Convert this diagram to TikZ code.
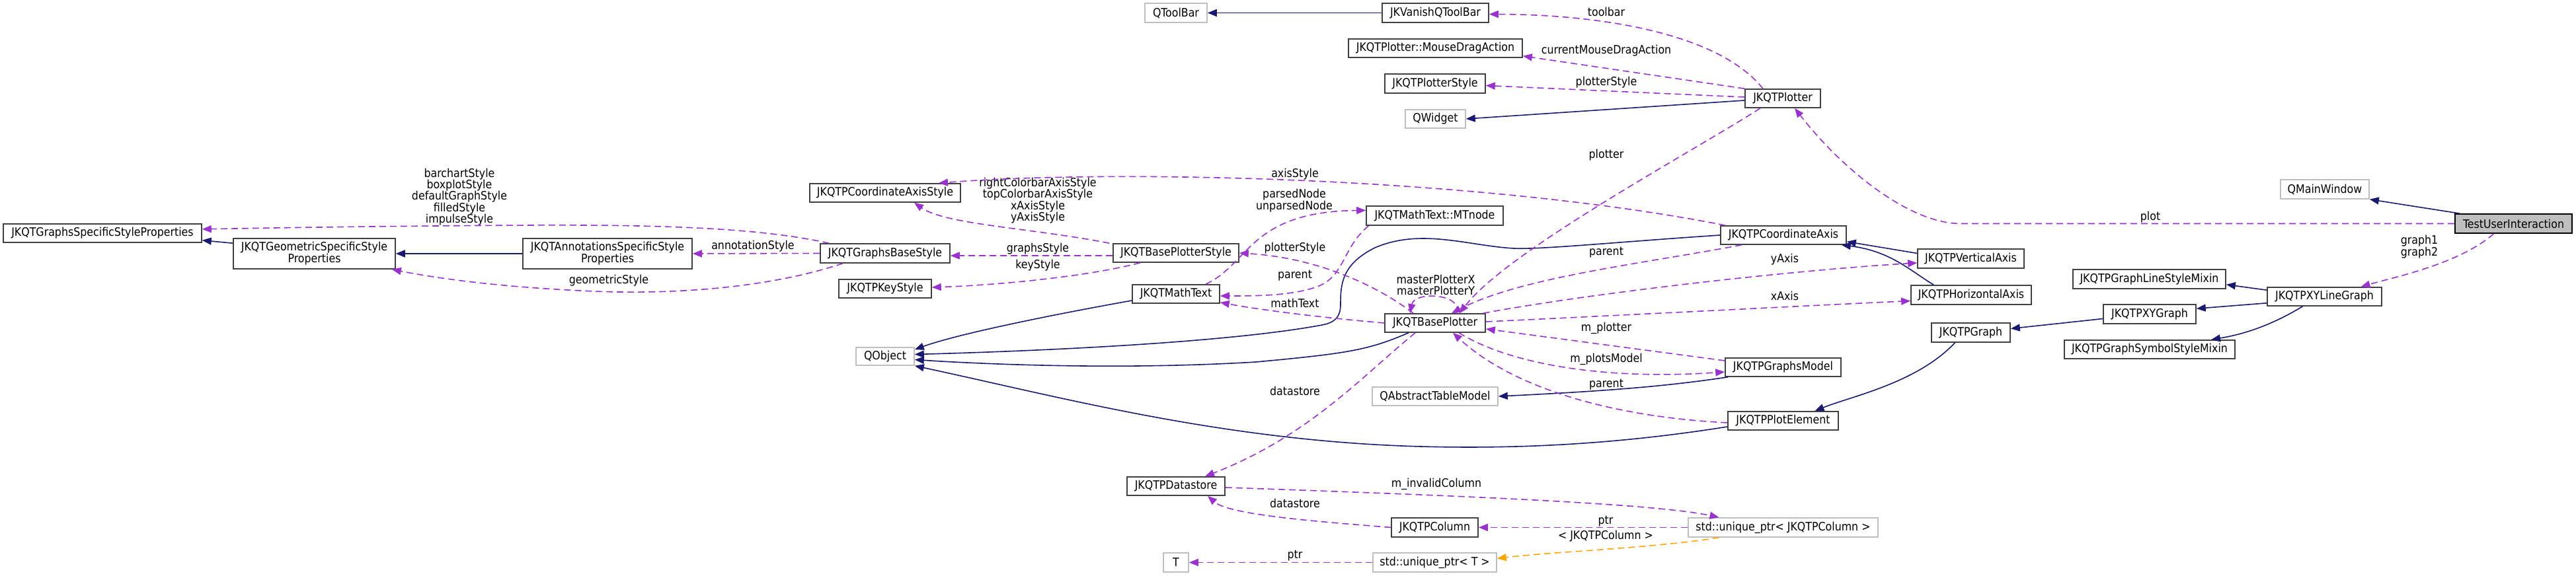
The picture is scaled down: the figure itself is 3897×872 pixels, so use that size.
\documentclass[tikz,border=0pt]{standalone}
\usepackage{fontspec}
\setmainfont{DejaVu Sans Condensed}
\usetikzlibrary{arrows.meta}
\definecolor{inhc}{HTML}{191970}
\definecolor{usec}{HTML}{9A32CD}
\definecolor{tmplc}{HTML}{FFA500}
\begin{document}
\begin{tikzpicture}[x=1pt,y=-1pt,
  font=\fontsize{17.6}{18}\selectfont,
  box/.style={draw=black!75, fill=white, line width=1.6pt, inner sep=0pt, align=center, text=black},
  ext/.style={box, draw=black!25},
  root/.style={box, fill=black!25, draw=black},
  lbl/.style={inner sep=0pt, align=center, font=\fontsize{17.6}{17.4}\selectfont},
  inh/.style={draw=inhc, line width=1.6pt, -{Triangle[length=14pt,width=11pt]}},
  use/.style={draw=usec, line width=1.6pt, dash pattern=on 10pt off 6pt, -{Triangle[length=14pt,width=11pt]}},
  tmpl/.style={use, draw=tmplc}
]
\useasboundingbox (0,0) rectangle (3897,872);

% ---------- nodes ----------
\node[box, minimum width=300pt, minimum height=28pt] (gssp) at (155,353) {JKQTGraphsSpecificStyleProperties};
\node[box, minimum width=245pt, minimum height=46pt] (geo) at (475.5,384) {JKQTGeometricSpecificStyle\\Properties};
\node[box, minimum width=256pt, minimum height=46pt] (ann) at (919,384) {JKQTAnnotationsSpecificStyle\\Properties};
\node[box, minimum width=196pt, minimum height=29pt] (gbs) at (1339,383.5) {JKQTGraphsBaseStyle};
\node[box, minimum width=228pt, minimum height=28pt] (cas) at (1339,292) {JKQTPCoordinateAxisStyle};
\node[box, minimum width=140pt, minimum height=28pt] (key) at (1339,437) {JKQTPKeyStyle};
\node[ext, minimum width=88pt, minimum height=27pt] (qobj) at (1339,539.5) {QObject};
\node[box, minimum width=190pt, minimum height=28pt] (bps) at (1779,383) {JKQTBasePlotterStyle};
\node[box, minimum width=132pt, minimum height=28pt] (mt) at (1779,445) {JKQTMathText};
\node[box, minimum width=148pt, minimum height=28pt] (ds) at (1779,736) {JKQTPDatastore};
\node[ext, minimum width=38pt, minimum height=29pt] (T) at (1779,851.5) {T};
\node[ext, minimum width=94pt, minimum height=29pt] (qtb) at (1779,19.5) {QToolBar};
\node[box, minimum width=161pt, minimum height=29pt] (vqt) at (2171.5,19.5) {JKVanishQToolBar};
\node[box, minimum width=263pt, minimum height=28pt] (mda) at (2171.5,73) {JKQTPlotter::MouseDragAction};
\node[box, minimum width=152pt, minimum height=29pt] (pst) at (2171,126.5) {JKQTPlotterStyle};
\node[ext, minimum width=91pt, minimum height=28pt] (qw) at (2171.5,180) {QWidget};
\node[box, minimum width=207pt, minimum height=29pt] (mtn) at (2170.5,326.5) {JKQTMathText::MTnode};
\node[box, minimum width=152pt, minimum height=28pt] (bp) at (2171,489) {JKQTBasePlotter};
\node[ext, minimum width=190pt, minimum height=28pt] (qatm) at (2171,600) {QAbstractTableModel};
\node[box, minimum width=131pt, minimum height=29pt] (col) at (2170.5,798.5) {JKQTPColumn};
\node[ext, minimum width=187pt, minimum height=29pt] (upt) at (2170.5,851.5) {std::unique\_ptr< T >};
\node[box, minimum width=114pt, minimum height=28pt] (plotter) at (2697,149) {JKQTPlotter};
\node[box, minimum width=190pt, minimum height=28pt] (ca) at (2698,356) {JKQTPCoordinateAxis};
\node[box, minimum width=175pt, minimum height=28pt] (gm) at (2697.5,556) {JKQTPGraphsModel};
\node[box, minimum width=167pt, minimum height=28pt] (pe) at (2697.5,637) {JKQTPPlotElement};
\node[ext, minimum width=287pt, minimum height=29pt] (upc) at (2697.5,798.5) {std::unique\_ptr< JKQTPColumn >};
\node[box, minimum width=161pt, minimum height=29pt] (va) at (2981.5,391.5) {JKQTPVerticalAxis};
\node[box, minimum width=182pt, minimum height=29pt] (ha) at (2982,446.5) {JKQTPHorizontalAxis};
\node[box, minimum width=119pt, minimum height=29pt] (g) at (2981.5,503.5) {JKQTPGraph};
\node[box, minimum width=231pt, minimum height=29pt] (lsm) at (3251.5,422.5) {JKQTPGraphLineStyleMixin};
\node[box, minimum width=140pt, minimum height=29pt] (xyg) at (3252,475.5) {JKQTPXYGraph};
\node[box, minimum width=258pt, minimum height=28pt] (ssm) at (3252,529) {JKQTPGraphSymbolStyleMixin};
\node[box, minimum width=173pt, minimum height=28pt] (xyl) at (3516.5,449) {JKQTPXYLineGraph};
\node[ext, minimum width=134pt, minimum height=29pt] (mw) at (3517,286.5) {QMainWindow};
\node[root, minimum width=177pt, minimum height=29pt] (tui) at (3802.5,338.5) {TestUserInteraction};

% ---------- labels ----------
\node[lbl] (l1) at (695,298) {barchartStyle\\boxplotStyle\\defaultGraphStyle\\filledStyle\\impulseStyle};
\node[lbl] (l2) at (1139,373) {annotationStyle};
\node[lbl] (l3) at (921,425) {geometricStyle};
\node[lbl] (l4) at (1570,303.5) {rightColorbarAxisStyle\\topColorbarAxisStyle\\xAxisStyle\\yAxisStyle};
\node[lbl] (l5) at (1570,377) {graphsStyle};
\node[lbl] (l6) at (1570,402) {keyStyle};
\node[lbl] (l7) at (1959,264) {axisStyle};
\node[lbl] (l8) at (1958,303.5) {parsedNode\\unparsedNode};
\node[lbl] (l9) at (1959,376) {plotterStyle};
\node[lbl] (l10) at (1959,417) {parent};
\node[lbl] (l11) at (1959,459) {mathText};
\node[lbl] (l12) at (1959,592) {datastore};
\node[lbl] (l13) at (2430,18) {toolbar};
\node[lbl] (l14) at (2430,77) {currentMouseDragAction};
\node[lbl] (l15) at (2430,125) {plotterStyle};
\node[lbl] (l16) at (2430,235) {plotter};
\node[lbl] (l17) at (2172,431.5) {masterPlotterX\\masterPlotterY};
\node[lbl] (l18) at (2430,382) {parent};
\node[lbl] (l19) at (2700,393) {yAxis};
\node[lbl] (l20) at (2700,448) {xAxis};
\node[lbl] (l21) at (2430,497) {m\_plotter};
\node[lbl] (l22) at (2430,544) {m\_plotsModel};
\node[lbl] (l23) at (2430,582) {parent};
\node[lbl] (l24) at (3253,329) {plot};
\node[lbl] (l25) at (3660,373.5) {graph1\\graph2};
\node[lbl] (l26) at (2173,733) {m\_invalidColumn};
\node[lbl] (l27) at (1959,762) {datastore};
\node[lbl] (l28) at (2429,789) {ptr};
\node[lbl] (l29) at (2429,812) {< JKQTPColumn >};
\node[lbl] (l30) at (1959,841) {ptr};

% ---------- inheritance ----------
\draw[inh] (vqt.west) -- (qtb.east);
\draw[inh] ([yshift=-3pt]plotter.west) -- (qw.east);
\draw[inh] ([xshift=8pt]tui.north west) -- (mw.south east);
\draw[inh] ([yshift=-8pt]geo.north west) -- ([yshift=4pt]gssp.south east);
\draw[inh] (ann.west) -- (geo.east);
\draw[inh] ([yshift=-10pt]mt.west) .. controls (1600,475) and (1450,505) .. ([yshift=-4pt]qobj.north east);
\draw[inh] (ca.west) .. controls (2450,366) and (2330,378) .. (2290,376)
  .. controls (2220,372) and (2150,345) .. (2080,375)
  .. controls (2030,400) and (2028,430) .. (2028,460)
  .. controls (2028,480) and (2020,488) .. (2000,492)
  .. controls (1850,520) and (1550,532) .. ([yshift=3pt]qobj.east);
\draw[inh] ([xshift=-40pt]bp.south) .. controls (2070,530) and (2040,535) .. (1900,548)
  .. controls (1700,560) and (1500,552) .. ([yshift=-5pt]qobj.east);
\draw[inh] ([yshift=-9pt]pe.west) .. controls (2450,672) and (2300,680) .. (2150,676)
  .. controls (1850,668) and (1600,600) .. (qobj.south east);
\draw[inh] ([xshift=5pt]gm.south west) .. controls (2520,585) and (2430,592) .. (qatm.east);
\draw[inh] ([yshift=8pt]va.west) -- ([yshift=5pt]ca.south east);
\draw[inh] ([xshift=35pt]ha.north west) .. controls (2890,410) and (2860,380) .. ([xshift=-8pt]ca.south east);
\draw[inh] ([yshift=-5pt]xyl.north west) -- ([yshift=7pt]lsm.south east);
\draw[inh] ([yshift=5pt]xyl.south west) -- ([yshift=-7pt]xyg.north east);
\draw[inh] ([xshift=-33pt]xyl.south) .. controls (3440,490) and (3400,505) .. ([xshift=93pt]ssm.north);
\draw[inh] ([yshift=-7pt]xyg.west) -- ([yshift=6pt]g.east);
\draw[inh] ([xshift=-24pt]g.south) .. controls (2900,580) and (2800,600) .. ([xshift=48pt]pe.north);

% ---------- usage ----------
\draw[use] ([xshift=-30pt]plotter.north) .. controls (2600,50) and (2420,22) .. ([yshift=-2pt]vqt.east);
\draw[use] (plotter.north west) -- ([yshift=3pt]mda.south east);
\draw[use] ([yshift=2pt]plotter.west) -- ([yshift=-3pt]pst.east);
\draw[use] ([xshift=-34pt]plotter.south) .. controls (2560,230) and (2280,380) .. ([xshift=37pt]bp.north);
\draw[use] (tui.west) -- (2965,338.5) .. controls (2890,338) and (2790,260) .. ([xshift=18pt]plotter.south);
\draw[use] ([xshift=-30pt]tui.south) .. controls (3720,400) and (3620,420) .. ([xshift=55pt]xyl.north);
\draw[use] ([xshift=-33pt]bp.north) .. controls (2080,430) and (1990,390) .. (bps.east);
\draw[use] (bp.west) .. controls (1990,480) and (1900,468) .. ([yshift=2pt]mt.south east);
\draw[use] ([xshift=-30pt]bp.south) .. controls (2060,570) and (1980,660) .. ([xshift=44pt]ds.north);
\draw[use] ([xshift=-4pt]bp.north east) .. controls (2400,445) and (2700,410) .. ([yshift=-6.5pt]va.west);
\draw[use] ([yshift=2pt]bp.east) .. controls (2500,475) and (2750,462) .. ([yshift=-9pt]ha.west);
\draw[use] ([xshift=36pt]bp.south) .. controls (2290,555) and (2440,575) .. ([yshift=-7pt]gm.west);
\draw[use] ([yshift=10pt]gm.west) -- ([yshift=-9pt]bp.east);
\draw[use] ([xshift=-63pt]ca.south) .. controls (2480,400) and (2300,420) .. ([xshift=25pt]bp.north);
\draw[use] ([yshift=-3pt]pe.west) .. controls (2420,630) and (2280,580) .. ([xshift=27pt]bp.south);
\draw[use] ([xshift=-88pt]ca.north) .. controls (2250,270) and (1700,255) .. ([xshift=81pt]cas.north);
\draw[use] ([xshift=-5pt]bps.north west) .. controls (1560,345) and (1430,340) .. ([xshift=44pt]cas.south);
\draw[use] ([yshift=-4pt]bps.west) -- ([yshift=-3.5pt]gbs.east);
\draw[use] ([xshift=-54pt]bps.south) .. controls (1640,420) and (1500,432) .. ([yshift=2pt]key.east);
\draw[use] ([xshift=14pt]gbs.north west) .. controls (1150,345) and (1000,340) .. (800,341)
  .. controls (600,342) and (400,345) .. ([yshift=6pt]gssp.east);
\draw[use] (gbs.west) -- (ann.east);
\draw[use] ([xshift=-64pt]gbs.south) .. controls (1150,440) and (1000,445) .. (900,441)
  .. controls (780,436) and (680,425) .. ([xshift=-6pt]geo.south east);
\draw[use] ([xshift=45pt]mt.north) .. controls (1890,400) and (1890,320) .. ([yshift=8pt]mtn.west);
\draw[use] ([xshift=-100pt]mtn.south) .. controls (2030,375) and (2035,420) .. (1990,435)
  .. controls (1950,448) and (1900,448) .. ([yshift=-3pt]mt.east);
\draw[use] ([yshift=-2pt]ds.east) .. controls (2200,750) and (2500,762) .. ([xshift=-97pt]upc.north);
\draw[use] (col.west) .. controls (2000,790) and (1860,780) .. ([xshift=48pt]ds.south);
\draw[use] (upc.west) -- (col.east);
\draw[use] (upt.west) -- (T.east);
\draw[tmpl] ([xshift=-97pt]upc.south) .. controls (2500,830) and (2350,835) .. ([yshift=6pt]upt.east);
\draw[use] ([xshift=32pt]bp.north) .. controls (2215,445) and (2140,440) .. ([xshift=-38pt]bp.north);
\end{tikzpicture}
\end{document}
